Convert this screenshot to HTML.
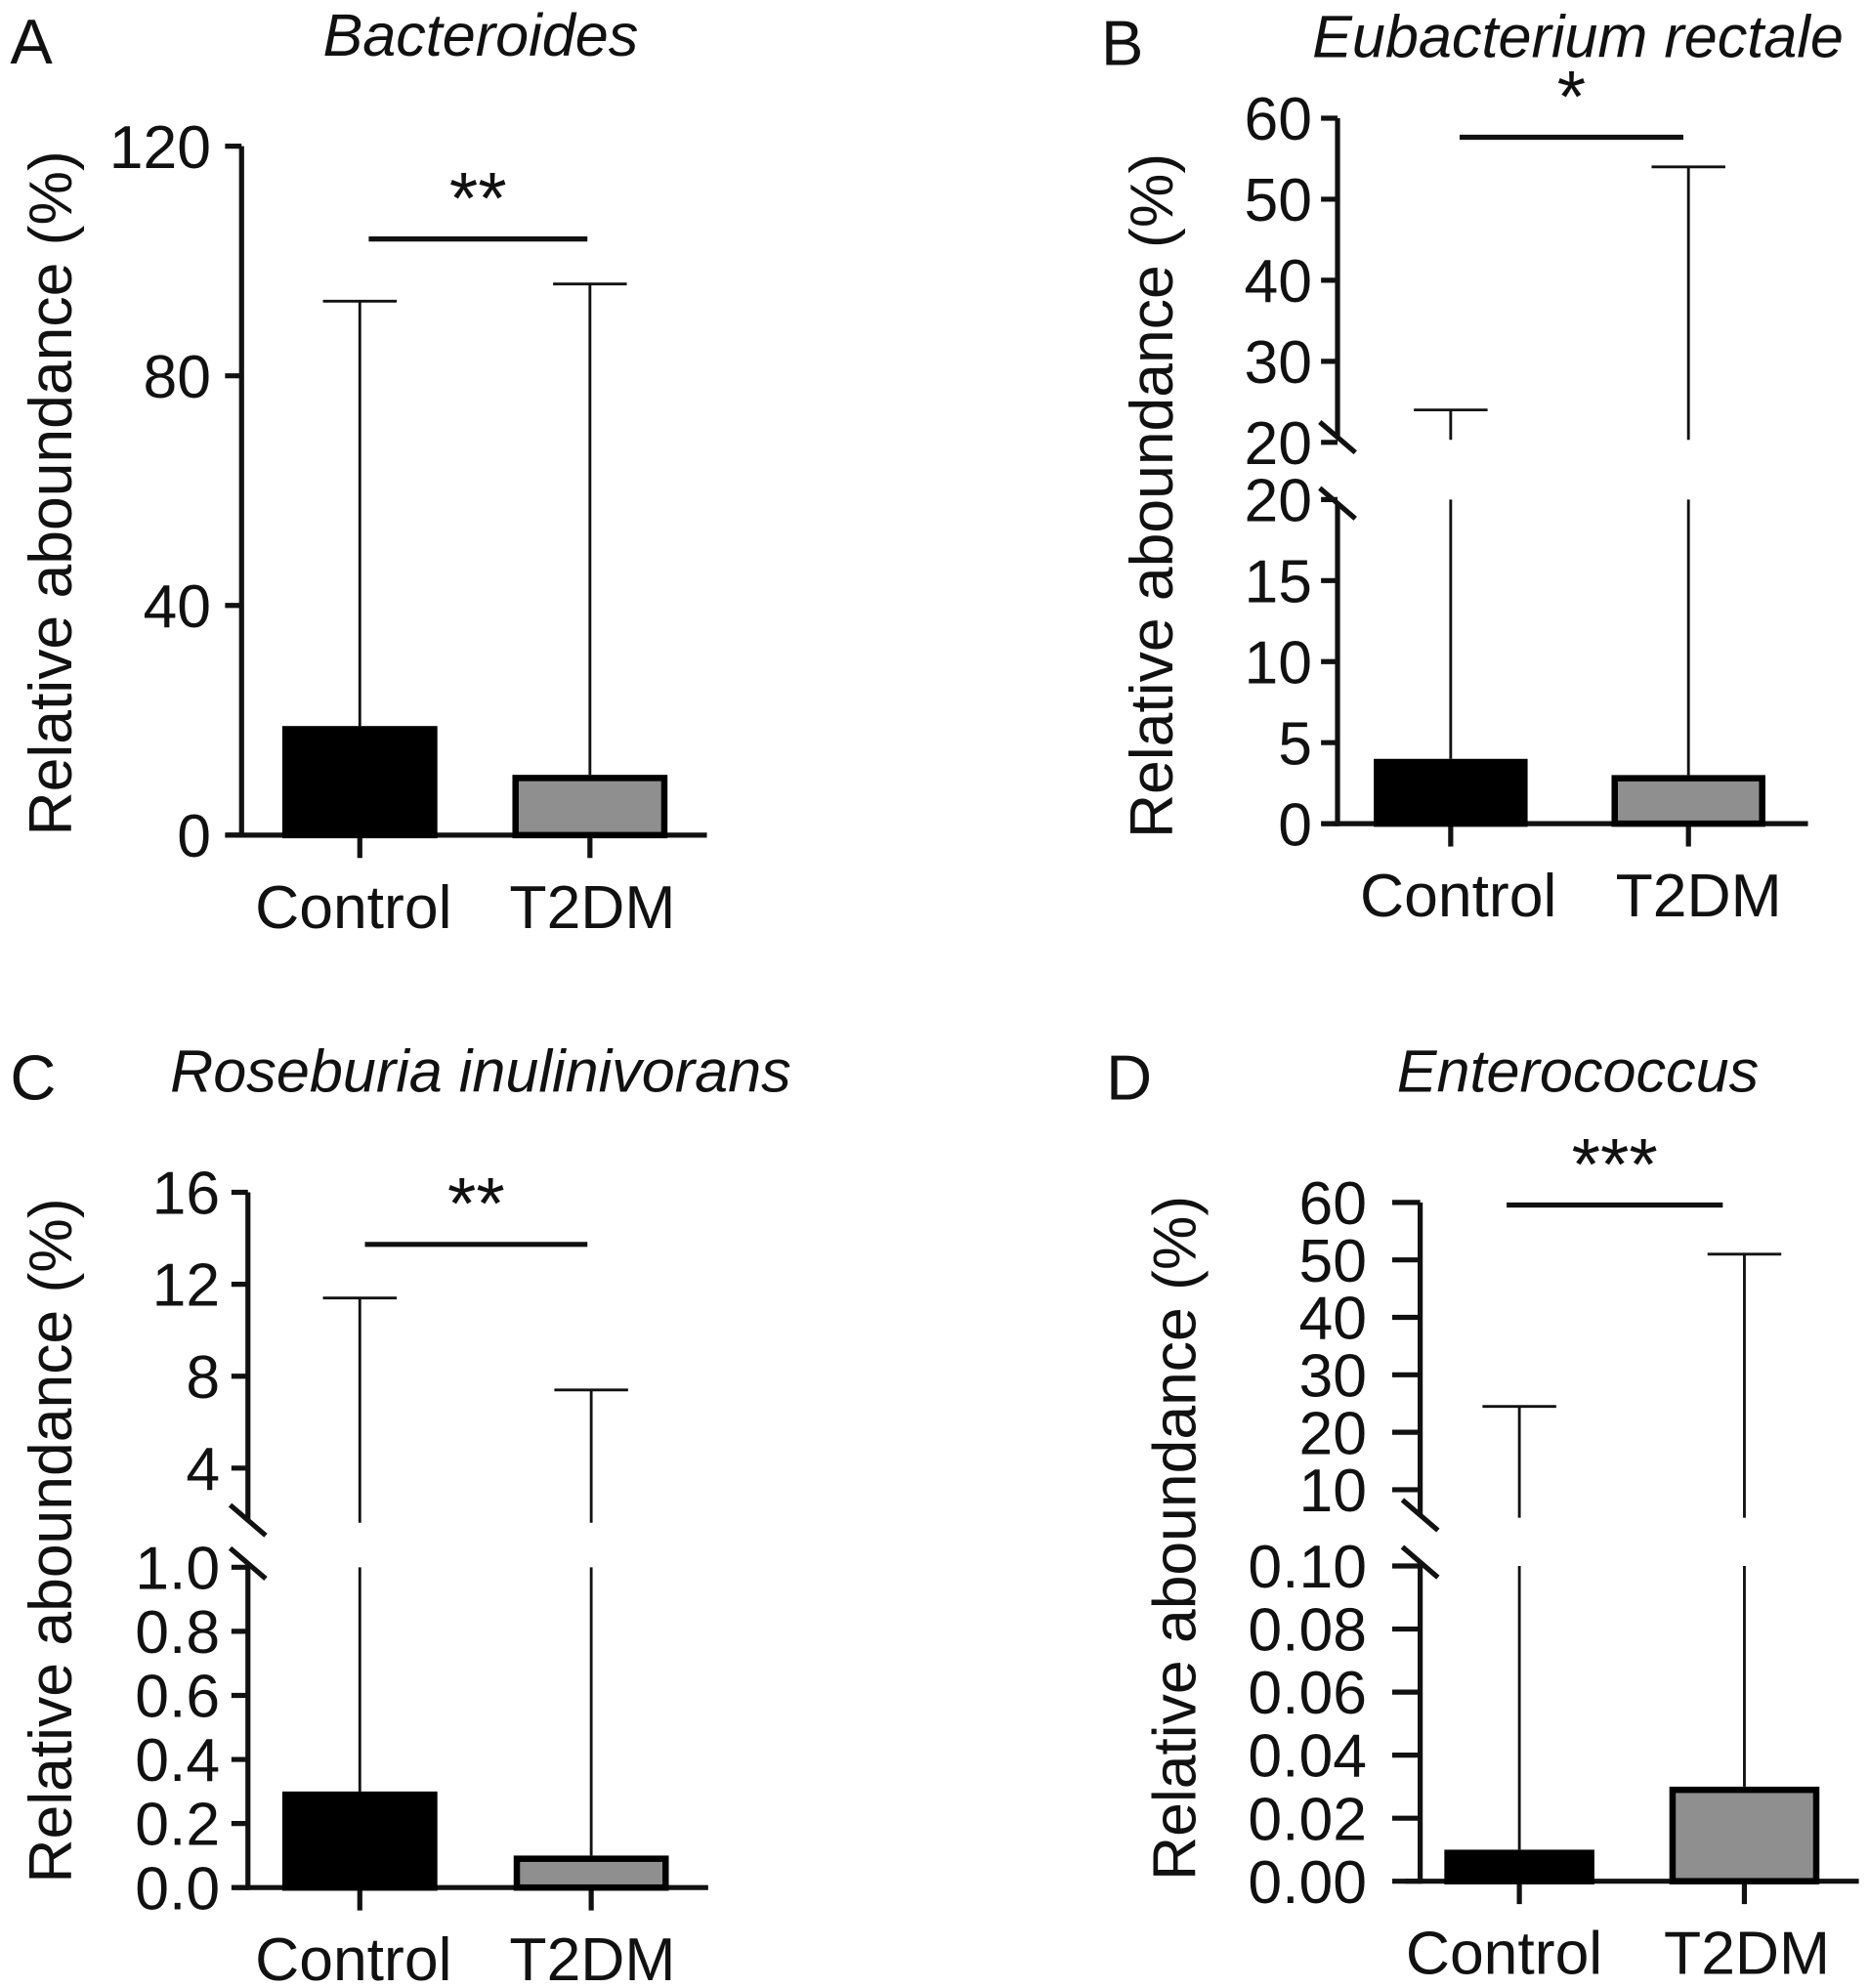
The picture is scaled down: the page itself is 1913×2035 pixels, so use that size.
<!DOCTYPE html>
<html><head><meta charset="utf-8"><style>
html,body{margin:0;padding:0;background:#fff}
svg{display:block}
text{font-family:"Liberation Sans",Arial,sans-serif;fill:#111}
</style></head><body>
<svg id="fig" width="1913" height="2035" viewBox="0 0 1470 1564" preserveAspectRatio="none" xmlns="http://www.w3.org/2000/svg"></svg>
<script>
// ----- data -----
const categories = ["Control", "T2DM"];
const panelLetters = ["A", "B", "C", "D"];
const panelTitles = ["Bacteroides", "Eubacterium rectale", "Roseburia inulinivorans", "Enterococcus"];
const sigLabels = ["**", "*", "**", "***"];
const meanA = [19, 10.5];
const errA = [93, 96];
const meanB = [4, 3];
const errB = [24, 54];
const meanC = [0.3, 0.1];
const errC = [11.4, 7.4];
const meanD = [0.01, 0.03];
const errD = [24.5, 51];
const ticksA = [0, 40, 80, 120];
const ticksBLow = [0, 5, 10, 15, 20];
const ticksBHigh = [20, 30, 40, 50, 60];
const ticksCLow = [0.0, 0.2, 0.4, 0.6, 0.8, 1.0];
const ticksCHigh = [4, 8, 12, 16];
const ticksDLow = [0.00, 0.02, 0.04, 0.06, 0.08, 0.10];
const ticksDHigh = [10, 20, 30, 40, 50, 60];
const tickLabelsC = ["0.0","0.2","0.4","0.6","0.8","1.0"];
const tickLabelsD = ["0.00","0.02","0.04","0.06","0.08","0.10"];

const NS = "http://www.w3.org/2000/svg";
const svg = document.getElementById("fig");
function mk(tag, attrs, parent) {
  const e = document.createElementNS(NS, tag);
  for (const k in attrs) e.setAttribute(k, attrs[k]);
  (parent || svg).appendChild(e);
  return e;
}
function line(g, x1, y1, x2, y2, w) { return mk("line", {x1, y1, x2, y2, stroke: "#111", "stroke-width": w}, g); }
function txt(g, s, x, y, size, anchor, extra) {
  const t = mk("text", Object.assign({x, y, "font-size": size, "text-anchor": anchor}, extra || {}), g);
  t.textContent = s;
  return t;
}
function scaleFn(s) { return v => s.y0 + (v - s.v0) * (s.y1 - s.y0) / (s.v1 - s.v0); }

function panel(cfg) {
  const g = mk("g", {});
  
  
  const L = txt(g, cfg.letter, cfg.letterX, cfg.titleY + 6, 50, "start");
  
  
  const T = txt(g, cfg.title, cfg.titleX, cfg.titleY, 47, "middle", {"font-style": "italic"});
  
  
  const Y = txt(g, "Relative aboundance (%)", 0, 0, 48, "middle", {transform: `translate(${cfg.ylabX},${cfg.ylabY}) rotate(-90)`});
  
  

  const low = scaleFn(cfg.low);
  const high = cfg.high ? scaleFn(cfg.high) : null;
  const ax = cfg.axisX;
  if (!high) {
    line(g, ax, cfg.low.y1, ax, cfg.low.y0 + 2, 4);
  } else {
    line(g, ax, cfg.low.y0 + 2, ax, cfg.lowTopEnd, 4);
    line(g, ax, cfg.high.y1, ax, cfg.highBottomEnd, 4);
    line(g, ax - 14, cfg.highBottomEnd - 12, ax + 14, cfg.highBottomEnd + 12, 4);
    line(g, ax - 14, cfg.lowTopEnd - 12, ax + 14, cfg.lowTopEnd + 12, 4);
  }
  const drawTicks = (ticks, sc, labels) => {
    ticks.forEach((v, i) => {
      const y = sc(v);
      line(g, ax - cfg.tickLen, y, ax, y, 4);
      const t = txt(g, labels ? labels[i] : String(v), ax - cfg.labelGap, y + 17, 48, "end");
      
      
    });
  };
  drawTicks(cfg.ticksLow, low, cfg.labelsLow);
  if (high) drawTicks(cfg.ticksHigh, high, null);
  const y0 = cfg.low.y0;
  line(g, ax - 12, y0, cfg.axisEnd, y0, 4);
  categories.forEach((c, i) => {
    const cx = cfg.cx[i];
    line(g, cx, y0, cx, y0 + 18, 4);
    const t = txt(g, c, cfg.catX[i], y0 + 73, 48, "middle");
    
    
  });
  categories.forEach((c, i) => {
    const cx = cfg.cx[i];
    const barTop = low(cfg.mean[i]);
    const e = cfg.err[i];
    if (!high) {
      const yt = low(e);
      line(g, cx, barTop, cx, yt, 2.2);
      line(g, cx - 29, yt, cx + 29, yt, 2.2);
    } else {
      line(g, cx, barTop, cx, cfg.low.y1, 2.2);
      const yt = high(e);
      line(g, cx, cfg.highBottomEnd + 2, cx, yt, 2.2);
      line(g, cx - 29, yt, cx + 29, yt, 2.2);
    }
  });
  categories.forEach((c, i) => {
    const cx = cfg.cx[i];
    const top = low(cfg.mean[i]);
    const w = cfg.barW;
    const r = mk("rect", {x: cx - w / 2 + 2.5, y: top + 2.5, width: w - 5, height: Math.max(0, y0 - top - 2.5),
      fill: i === 0 ? "#000" : "#8f8f8f", stroke: "#000", "stroke-width": 5}, g);
    
    
  });
  const s = line(g, cfg.sig[0], cfg.sig[2], cfg.sig[1], cfg.sig[2], 4);
  
  
  const st = txt(g, cfg.sigLabel, (cfg.sig[0] + cfg.sig[1]) / 2, cfg.sig[2] - 12, 58, "middle");
  
  
}

panel({letter: panelLetters[0], letterX: 8, title: panelTitles[0], titleX: 378, titleY: 44,
  ylabX: 56, ylabY: 388, axisX: 190, axisEnd: 556, tickLen: 13, labelGap: 24,
  low: {v0: 0, v1: 120, y0: 657, y1: 115}, ticksLow: ticksA,
  cx: [283, 464], catX: [278, 466], barW: 122, mean: meanA, err: errA,
  sig: [290, 462, 188], sigLabel: sigLabels[0]});

panel({letter: panelLetters[1], letterX: 866, title: panelTitles[1], titleX: 1241, titleY: 45,
  ylabX: 922, ylabY: 390, axisX: 1052, axisEnd: 1422, tickLen: 13, labelGap: 20,
  low: {v0: 0, v1: 20, y0: 648, y1: 393}, high: {v0: 20, v1: 60, y0: 348, y1: 93},
  lowTopEnd: 396, highBottomEnd: 344,
  ticksLow: ticksBLow, ticksHigh: ticksBHigh,
  cx: [1141, 1328], catX: [1147, 1336], barW: 121, mean: meanB, err: errB,
  sig: [1148, 1324, 108], sigLabel: sigLabels[1]});

panel({letter: panelLetters[2], letterX: 8, title: panelTitles[2], titleX: 378, titleY: 859,
  ylabX: 56, ylabY: 1212, axisX: 195, axisEnd: 557, tickLen: 13, labelGap: 22,
  low: {v0: 0, v1: 1, y0: 1485, y1: 1233}, high: {v0: 4, v1: 16, y0: 1155, y1: 938},
  lowTopEnd: 1230, highBottomEnd: 1196,
  ticksLow: ticksCLow, labelsLow: tickLabelsC, ticksHigh: ticksCHigh,
  cx: [283, 465], catX: [278, 466], barW: 122, mean: meanC, err: errC,
  sig: [287, 462, 979], sigLabel: sigLabels[2]});

panel({letter: panelLetters[3], letterX: 870, title: panelTitles[3], titleX: 1241, titleY: 859,
  ylabX: 940, ylabY: 1210, axisX: 1117, axisEnd: 1462, tickLen: 22, labelGap: 42,
  low: {v0: 0, v1: 0.1, y0: 1480, y1: 1232}, high: {v0: 10, v1: 60, y0: 1172, y1: 946},
  lowTopEnd: 1229, highBottomEnd: 1192,
  ticksLow: ticksDLow, labelsLow: tickLabelsD, ticksHigh: ticksDHigh,
  cx: [1195, 1372], catX: [1183, 1374], barW: 118, mean: meanD, err: errD,
  sig: [1185, 1355, 948], sigLabel: sigLabels[3]});
</script>
</body></html>
